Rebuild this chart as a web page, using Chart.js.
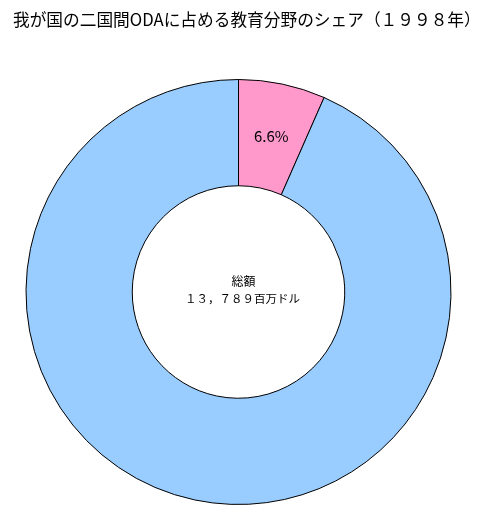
<!DOCTYPE html>
<html>
<head>
<meta charset="utf-8">
<script src="https://cdn.jsdelivr.net/npm/chart.js@4/dist/chart.umd.min.js"></script>
<style>
  html, body { margin: 0; padding: 0; background: #fff; }
  #wrap { width: 479px; height: 526px; }
</style>
</head>
<body>
<div id="wrap"><canvas id="ODA_Canva"></canvas></div>
<script>
// Data
const chartTitle = '我が国の二国間ODAに占める教育分野のシェア（１９９８年）';
const categories = ['教育', 'その他'];
const shareValues = [6.6, 93.4];
const sliceColors = ['#FF99CC', '#99CCFF'];
const shownLabels = ['6.6%', ''];
const centerLines = ['総額', '１３，７８９百万ドル'];

const jpFont = '"Noto Sans CJK JP", "DejaVu Sans", sans-serif';

// Title, labels in the middle of the ring + total in the hole
const textPlugin = {
    id: 'textPlugin',
    afterDatasetsDraw(chart) {
        const ctx = chart.ctx;
        const meta = chart.getDatasetMeta(0);
        ctx.save();
        ctx.fillStyle = '#000';

        // title
        ctx.textAlign = 'left';
        ctx.textBaseline = 'middle';
        ctx.font = '16.7px ' + jpFont;
        ctx.fillText(chartTitle, 13, 20);

        ctx.textAlign = 'center';
        ctx.font = '15px ' + jpFont;
        meta.data.forEach((arc, i) => {
            if (!shownLabels[i]) return;
            const p = arc.tooltipPosition();
            ctx.fillText(shownLabels[i], p.x, p.y);
        });
        const c = meta.data[0];
        ctx.font = '12px ' + jpFont;
        ctx.fillText(centerLines[0], c.x + 5, c.y - 11);
        ctx.font = '11.5px ' + jpFont;
        ctx.fillText(centerLines[1], c.x + 4, c.y + 7);
        ctx.restore();
    }
};

const ODA_Graph = new Chart(document.getElementById('ODA_Canva').getContext('2d'), {
    type: 'doughnut',
    data: {
        labels: categories,
        datasets: [{
            data: shareValues,
            backgroundColor: sliceColors,
            borderColor: '#000',
            borderWidth: 1,
            borderAlign: 'center'
        }]
    },
    options: {
        responsive: true,
        maintainAspectRatio: false,
        animation: { duration: 0 },
        cutout: '50%',
        layout: { padding: { left: 25, right: 27, top: 79, bottom: 21 } },
        plugins: {
            legend: { display: false },
            tooltip: { enabled: false },
            title: { display: false }
        }
    },
    plugins: [textPlugin]
});
</script>
</body>
</html>
